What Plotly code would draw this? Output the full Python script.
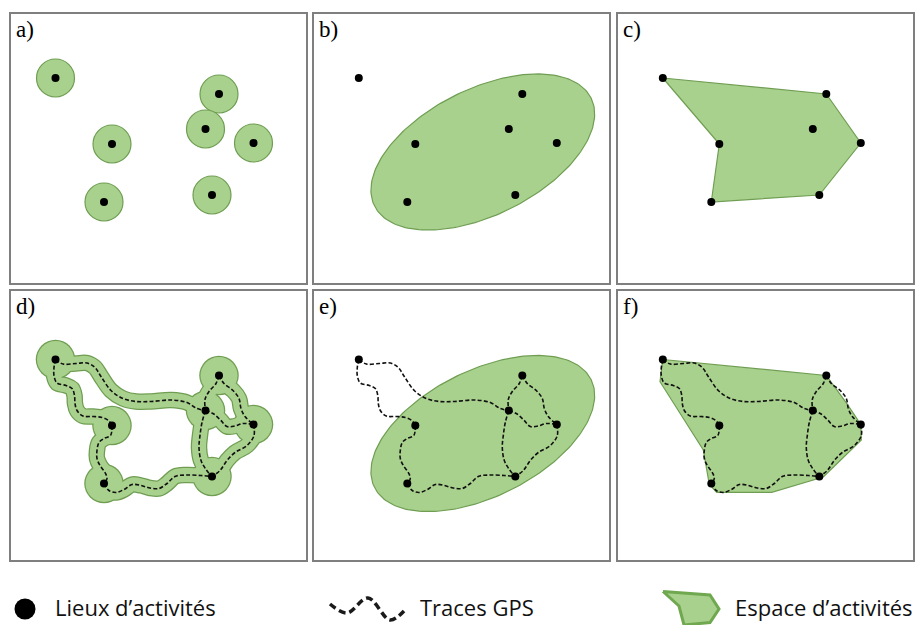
import numpy as np
import plotly.graph_objects as go

W, H = 919, 625

# ---------------- data (panel-local pixel units, y pointing down) ----------------
loc_x = [44.5, 101, 93, 208, 194.5, 242.5, 201]
loc_y = [64, 130, 188, 80, 115, 129, 181]

route_1_5 = [(44.5, 64), (52, 68.5), (65, 68), (76, 67.5), (84, 72), (90, 81), (100, 95), (112, 103),
             (125, 106), (140, 106), (160, 104.5), (176, 107), (186, 113), (194.5, 115)]
route_1_2 = [(44.5, 64), (43, 72), (43, 80), (46, 87.5), (55, 90), (61, 93), (63.5, 100), (64, 108),
             (66, 115), (72, 120.5), (82, 121), (91, 122), (97.5, 125), (101, 130)]
route_2_3 = [(101, 130), (99.5, 140), (93, 143), (88, 147), (86, 155), (86, 163), (89, 170), (94, 177),
             (96, 183), (93, 188)]
route_3_7 = [(93, 188), (98, 195), (105, 197), (113, 194), (121, 189), (130, 190), (139, 192.5), (148, 193),
             (156, 188), (164, 181), (175, 179.5), (190, 180), (201, 181)]
route_4_5 = [(208, 80), (205, 88), (198, 96), (194, 104), (194.5, 115)]
route_5_7 = [(194.5, 115), (191, 127), (189, 140), (188, 152), (190, 165), (195, 174), (201, 181)]
route_4_6 = [(208, 80), (213, 88), (222, 95), (228, 103), (230, 113), (234, 121), (242.5, 129)]
route_5_6 = [(194.5, 115), (202, 118), (209, 124), (216, 131), (224, 130.5), (232, 128), (242.5, 129)]
route_6_7 = [(242.5, 129), (243, 140), (236, 150), (224, 157), (216, 165), (209, 175), (201, 181)]
routes = [route_1_5, route_1_2, route_2_3, route_3_7, route_4_5, route_5_7, route_4_6, route_5_6, route_6_7]

# standard deviational ellipse: centre, semi-axes, tilt (degrees)
ell_cx, ell_cy, ell_a, ell_b, ell_tilt = 168.5, 138, 121, 63, 26.5

# polygon c (vertices = activity locations, by index)
poly_c_idx = [0, 3, 5, 6, 2, 1]
# polygon f (envelope of the GPS traces)
poly_f = [(44.5, 64), (208, 80), (228.4, 107.8), (242.5, 129), (243, 144.5), (205, 181.5),
          (153.4, 196.8), (98.4, 196.8), (91, 189), (85, 154.5), (41.7, 86.2)]

panel_labels = ["a)", "b)", "c)", "d)", "e)", "f)"]
legend_labels = ["Lieux d\u2019activit\u00e9s", "Traces GPS", "Espace d\u2019activit\u00e9s"]
legend_wave_x = [330, 347, 368, 390, 404]
legend_wave_y = [604, 613, 598, 620, 611]
legend_shape_x = [663, 710, 719, 710, 684, 679]
legend_shape_y = [591.5, 595, 609, 622.5, 625, 606]

# ---------------- styles ----------------
FILL = "#a9d18e"
EDGE = "#6f9e52"
BORDER = "#7f7f7f"

col_px = [(11, 305.5), (314.3, 609.3), (618.3, 913.3)]
row_px = [(14, 282.5), (291, 560.3)]
row_off = [0, 4.5]

fig = go.Figure()
layout = dict(width=W, height=H, margin=dict(l=0, r=0, t=0, b=0),
              paper_bgcolor="white", plot_bgcolor="white", showlegend=False)

for i in range(6):
    r, c = divmod(i, 3)
    n = i + 1
    x0, x1 = col_px[c]
    y0, y1 = row_px[r]
    ax = dict(showgrid=False, zeroline=False, showticklabels=False, ticks="",
              showline=True, mirror=True, linecolor=BORDER, linewidth=1.5, fixedrange=True)
    layout["xaxis" + ("" if n == 1 else str(n))] = dict(ax, domain=[x0 / W, x1 / W], range=[0, x1 - x0],
                                                        anchor="y" + ("" if n == 1 else str(n)))
    layout["yaxis" + ("" if n == 1 else str(n))] = dict(ax, domain=[1 - y1 / H, 1 - y0 / H],
                                                        range=[(y1 - y0) - row_off[r], -row_off[r]],
                                                        anchor="x" + ("" if n == 1 else str(n)))
layout["xaxis7"] = dict(visible=False, domain=[0, 1], range=[0, W], anchor="y7", fixedrange=True)
layout["yaxis7"] = dict(visible=False, domain=[0, 55 / H], range=[625, 570], anchor="x7", fixedrange=True)


def refs(n):
    s = "" if n == 1 else str(n)
    return dict(xaxis="x" + s, yaxis="y" + s)


def add_points(n):
    fig.add_trace(go.Scatter(x=loc_x, y=loc_y, mode="markers", hoverinfo="skip",
                             marker=dict(size=8, color="black"), **refs(n)))


def add_routes(n):
    for rt in routes:
        xs, ys = zip(*rt)
        fig.add_trace(go.Scatter(x=xs, y=ys, mode="lines", hoverinfo="skip",
                                 line=dict(color="#111111", width=1.6, dash="4px,2.2px",
                                           shape="spline", smoothing=1.0), **refs(n)))


def ellipse_xy():
    t = np.linspace(0, 2 * np.pi, 200)
    th = np.deg2rad(ell_tilt)
    u = ell_a * np.cos(t)
    v = ell_b * np.sin(t)
    ex = ell_cx + u * np.cos(th) + v * np.sin(th)
    ey = ell_cy - u * np.sin(th) + v * np.cos(th)
    return ex, ey


# a) buffers around locations
fig.add_trace(go.Scatter(x=loc_x, y=loc_y, mode="markers", hoverinfo="skip",
                         marker=dict(size=38, color=FILL, line=dict(color=EDGE, width=1.2)), **refs(1)))
add_points(1)

# b) ellipse
ex, ey = ellipse_xy()
fig.add_trace(go.Scatter(x=ex, y=ey, mode="lines", fill="toself", fillcolor=FILL, hoverinfo="skip",
                         line=dict(color=EDGE, width=1.2), **refs(2)))
add_points(2)

# c) polygon of locations
px = [loc_x[k] for k in poly_c_idx] + [loc_x[poly_c_idx[0]]]
py = [loc_y[k] for k in poly_c_idx] + [loc_y[poly_c_idx[0]]]
fig.add_trace(go.Scatter(x=px, y=py, mode="lines", fill="toself", fillcolor=FILL, hoverinfo="skip",
                         line=dict(color=EDGE, width=1.2), **refs(3)))
add_points(3)

# d) buffered traces
for rt in routes:
    xs, ys = zip(*rt)
    fig.add_trace(go.Scatter(x=xs, y=ys, mode="lines", hoverinfo="skip",
                             line=dict(color=EDGE, width=16.5, shape="spline", smoothing=1.0), **refs(4)))
fig.add_trace(go.Scatter(x=loc_x, y=loc_y, mode="markers", hoverinfo="skip",
                         marker=dict(size=39.5, color=EDGE), **refs(4)))
for rt in routes:
    xs, ys = zip(*rt)
    fig.add_trace(go.Scatter(x=xs, y=ys, mode="lines", hoverinfo="skip",
                             line=dict(color=FILL, width=14, shape="spline", smoothing=1.0), **refs(4)))
fig.add_trace(go.Scatter(x=loc_x, y=loc_y, mode="markers", hoverinfo="skip",
                         marker=dict(size=37, color=FILL), **refs(4)))
add_routes(4)
add_points(4)

# e) ellipse + traces
fig.add_trace(go.Scatter(x=ex, y=ey, mode="lines", fill="toself", fillcolor=FILL, hoverinfo="skip",
                         line=dict(color=EDGE, width=1.2), **refs(5)))
add_routes(5)
add_points(5)

# f) trace envelope polygon + traces
fx, fy = zip(*(poly_f + [poly_f[0]]))
fig.add_trace(go.Scatter(x=fx, y=fy, mode="lines", fill="toself", fillcolor=FILL, hoverinfo="skip",
                         line=dict(color=EDGE, width=1.2), **refs(6)))
add_routes(6)
add_points(6)

# legend row
fig.add_trace(go.Scatter(x=[25], y=[609], mode="markers", hoverinfo="skip",
                         marker=dict(size=21, color="black"), **refs(7)))
fig.add_trace(go.Scatter(x=legend_wave_x, y=legend_wave_y, mode="lines", hoverinfo="skip",
                         line=dict(color="#1a1a1a", width=3.5, dash="7px,4px", shape="spline", smoothing=1.0),
                         **refs(7)))
fig.add_trace(go.Scatter(x=legend_shape_x + [legend_shape_x[0]], y=legend_shape_y + [legend_shape_y[0]],
                         mode="lines", fill="toself", fillcolor=FILL, hoverinfo="skip",
                         line=dict(color="#70a850", width=3), **refs(7)))

annotations = []
for i, lab in enumerate(panel_labels):
    n = i + 1
    s = "" if n == 1 else str(n)
    annotations.append(dict(text=lab, xref="x" + s + " domain", yref="y" + s + " domain",
                            x=0.01, y=0.998, xanchor="left", yanchor="top", showarrow=False,
                            font=dict(family="Liberation Serif", size=23, color="black")))
for lab, lx in zip(legend_labels, [53, 418, 733]):
    annotations.append(dict(text=lab, xref="x7", yref="y7", x=lx, y=607, xanchor="left", yanchor="middle",
                            showarrow=False, font=dict(family="Open Sans", size=22, color="#111111")))
layout["annotations"] = annotations

fig.update_layout(**layout)
fig.write_html("out.html", config={"displayModeBar": False},
               post_script="document.body.style.margin='0';document.body.style.padding='0';"
                           "document.body.style.overflow='hidden';")
